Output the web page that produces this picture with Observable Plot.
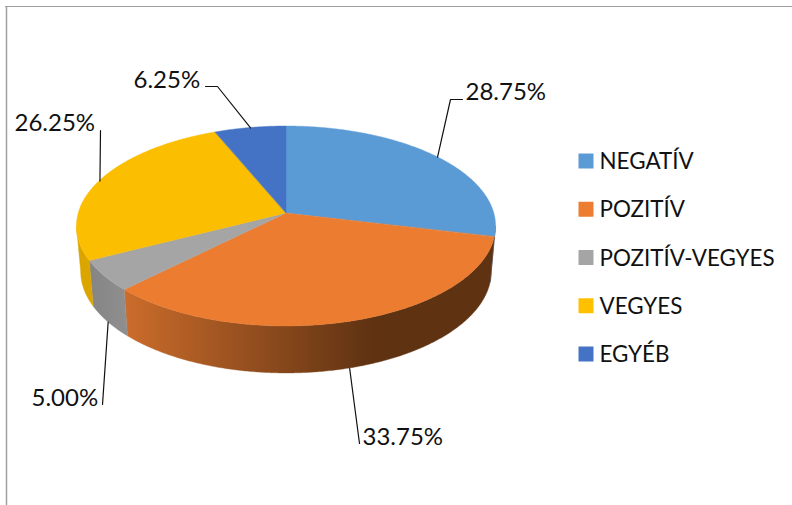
<!DOCTYPE html>
<html lang="hu">
<head>
<meta charset="utf-8">
<script src="https://cdn.jsdelivr.net/npm/d3@7"></script>
<script src="https://cdn.jsdelivr.net/npm/@observablehq/plot@0.6"></script>
<style>html,body{margin:0;padding:0;background:#fff}svg{display:block}</style>
</head>
<body>
<div id="chart"></div>
<script>
// Data
const categories = ["NEGATÍV", "POZITÍV", "POZITÍV-VEGYES", "VEGYES", "EGYÉB"];
const shares = [28.75, 33.75, 5.00, 26.25, 6.25];

// Styles
const legendColors = ["#5b9bd5", "#ed7d31", "#a5a5a5", "#ffc000", "#4472c4"];
const topColors = ["#5b9bd5", "#eb7c30", "#a5a5a5", "#fcbe00", "#4472c4"];
const wallColors = ["#2f5f8c", "url(#wall-orange)", "url(#wall-gray)", "#dba500", "#2b4f8f"];
const fontFamily = "Lato, 'Open Sans', sans-serif";
const ink = "#111";

// Layout: a projected disc, apex at (cx, cy); k is the perspective factor
const topDisc = {cx: 286, cy: 213, a: 207.8, b: 98.3, k: 0.13};
const bottomDisc = {cx: 286, cy: 258, a: 203.6, b: 100, k: 0.13};
const silhouette = [97.5, 262.5];
const labelSpec = [
  {i: 0, x: 465, y: 99, elbow: [[462, 99], [450, 99]], disc: topDisc},
  {i: 1, x: 362, y: 444, elbow: [[359, 443]], disc: bottomDisc},
  {i: 2, x: 31, y: 405, elbow: [[102, 404]], disc: bottomDisc},
  {i: 3, x: 14, y: 130, elbow: [[100, 130]], disc: topDisc},
  {i: 4, x: 133, y: 87, elbow: [[205, 86], [217, 86]], disc: topDisc}
];

const total = d3.sum(shares);
const edges = d3.cumsum(shares).map(v => v / total * 360);
const starts = [0, ...edges.slice(0, -1)];

function project(disc, deg) {
  const t = deg * Math.PI / 180, u = Math.sin(t), v = -Math.cos(t), w = 1 - disc.k * v;
  return [disc.cx + disc.a * u / w, disc.cy + disc.b * v / w];
}
function sweep(from, to) {
  const out = [];
  const n = Math.max(2, Math.ceil((to - from) / 0.5));
  for (let j = 0; j <= n; j++) out.push(from + (to - from) * j / n);
  return out;
}

const wedges = categories.map((c, i) => sweep(starts[i], edges[i]).map(a => {
  const [x, y] = project(topDisc, a);
  return {x, y};
}));

const walls = categories.map((c, i) => {
  const from = Math.max(starts[i], silhouette[0]), to = Math.min(edges[i], silhouette[1]);
  if (to <= from) return [];
  return sweep(from, to).map(a => {
    const [x1, y1] = project(topDisc, a), [x2, y2] = project(bottomDisc, a);
    return {x1, y1, x2, y2};
  });
});

const leaders = labelSpec.flatMap(s => {
  const mid = (starts[s.i] + edges[s.i]) / 2;
  return [...s.elbow, project(s.disc, mid)].map(([x, y]) => ({x, y, z: s.i}));
});

const gradients = () => {
  const ns = "http://www.w3.org/2000/svg";
  const defs = document.createElementNS(ns, "defs");
  const make = (id, x1, x2, stops) => {
    const g = document.createElementNS(ns, "linearGradient");
    g.setAttribute("id", id);
    g.setAttribute("gradientUnits", "userSpaceOnUse");
    g.setAttribute("x1", x1); g.setAttribute("x2", x2);
    g.setAttribute("y1", 0); g.setAttribute("y2", 0);
    stops.forEach(([o, c]) => {
      const s = document.createElementNS(ns, "stop");
      s.setAttribute("offset", o); s.setAttribute("stop-color", c);
      g.appendChild(s);
    });
    defs.appendChild(g);
  };
  make("wall-orange", 125, 372, [[0, "#cb6c2b"], [1, "#5f3212"]]);
  make("wall-gray", 90, 128, [[0, "#858585"], [1, "#8f8f8f"]]);
  return defs;
};

const plot = Plot.plot({
  width: 792,
  height: 505,
  margin: 0,
  x: {domain: [0, 792], range: [0, 792], axis: null},
  y: {domain: [0, 505], range: [0, 505], axis: null},
  style: {fontFamily, background: "#fff"},
  marks: [
    gradients,
    Plot.ruleY([6], {x1: 5, x2: 792, stroke: "#a0a0a0", strokeWidth: 1}),
    Plot.ruleX([6], {y1: 6, y2: 505, stroke: "#a0a0a0", strokeWidth: 1.5}),
    ...walls.map((w, i) => Plot.area(w, {
      x1: "x1", y1: "y1", x2: "x2", y2: "y2",
      fill: wallColors[i], stroke: wallColors[i], strokeWidth: 0.4
    })),
    ...wedges.map((w, i) => Plot.area(w, {
      x1: () => topDisc.cx, y1: () => topDisc.cy, x2: "x", y2: "y",
      fill: topColors[i], stroke: topColors[i], strokeWidth: 0.4
    })),
    Plot.line(leaders, {x: "x", y: "y", z: "z", stroke: ink, strokeWidth: 1.2}),
    Plot.text(labelSpec, {
      x: "x", y: "y",
      text: s => shares[s.i].toFixed(2) + "%",
      textAnchor: "start", lineAnchor: "bottom",
      fontSize: 24, fill: ink
    }),
    Plot.dot(categories, {
      x: () => 585.5, y: (c, i) => 160.5 + i * 48.25,
      symbol: "square", r: 8.46, fill: (c, i) => legendColors[i], stroke: "none"
    }),
    Plot.text(categories, {
      x: () => 599, y: (c, i) => 168.5 + i * 48.25,
      text: c => c,
      textAnchor: "start", lineAnchor: "bottom",
      fontSize: 22.4, fill: ink
    })
  ]
});
document.getElementById("chart").appendChild(plot);
</script>
</body>
</html>
